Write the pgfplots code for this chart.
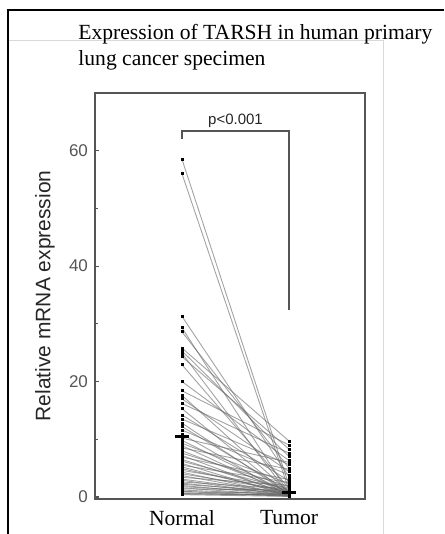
\documentclass[border=0pt]{standalone}
\usepackage{fontspec}
\setmainfont{Liberation Serif}
\newfontfamily\arial{Liberation Sans}
\usepackage{pgfplots}
\pgfplotsset{compat=1.18}
\definecolor{axgray}{HTML}{555555}
\begin{document}
\begin{tikzpicture}
\begin{axis}[
  name=ax,
  scale only axis, width=135pt, height=203pt,
  xmin=-0.813, xmax=1.71, ymin=-0.35, ymax=70,
  xtick={0,1}, xticklabels={Normal,Tumor},
  x tick label style={font=\fontsize{10.8}{12}\selectfont, yshift=-2pt},
  xtick style={draw=none},
  ytick={0,20,40,60}, minor ytick={10,30,50},
  tick pos=left, tick align=inside,
  major tick length=2pt, minor tick length=1.5pt,
  y tick label style={font=\arial\fontsize{8.5}{10}\selectfont, text=axgray},
  /pgf/number format/assume math mode=true,
  axis line style={axgray, line width=1pt},
  every tick/.style={axgray, line width=0.6pt},
  ylabel={Relative mRNA expression},
  ylabel style={font=\arial\fontsize{10.5}{12}\selectfont, text=black!85, at={(axis description cs:-0.185,0.5)}, anchor=center},
  clip=false,
  pair/.style={black!60, opacity=0.6, line width=0.45pt, mark=square*, mark size=0.5pt,
    mark options={black, opacity=1, fill=black}},
]
\addplot[pair] coordinates {(0,58.5) (1,2.0)};
\addplot[pair] coordinates {(0,56.0) (1,1.2)};
\addplot[pair] coordinates {(0,31.3) (1,3.5)};
\addplot[pair] coordinates {(0,29.3) (1,0.6)};
\addplot[pair] coordinates {(0,28.6) (1,5.0)};
\addplot[pair] coordinates {(0,25.8) (1,9.7)};
\addplot[pair] coordinates {(0,25.3) (1,7.0)};
\addplot[pair] coordinates {(0,24.9) (1,0.4)};
\addplot[pair] coordinates {(0,24.3) (1,8.3)};
\addplot[pair] coordinates {(0,22.9) (1,1.5)};
\addplot[pair] coordinates {(0,20.0) (1,6.3)};
\addplot[pair] coordinates {(0,18.4) (1,9.0)};
\addplot[pair] coordinates {(0,17.6) (1,0.8)};
\addplot[pair] coordinates {(0,17.0) (1,4.4)};
\addplot[pair] coordinates {(0,16.2) (1,7.6)};
\addplot[pair] coordinates {(0,15.3) (1,0.3)};
\addplot[pair] coordinates {(0,14.2) (1,2.8)};
\addplot[pair] coordinates {(0,13.5) (1,5.6)};
\addplot[pair] coordinates {(0,12.8) (1,0.5)};
\addplot[pair] coordinates {(0,12.2) (1,1.0)};
\addplot[pair] coordinates {(0,11.6) (1,3.8)};
\addplot[pair] coordinates {(0,10.9) (1,0.2)};
\addplot[pair] coordinates {(0,10.2) (1,6.0)};
\addplot[pair] coordinates {(0,9.8) (1,0.7)};
\addplot[pair] coordinates {(0,9.3) (1,2.3)};
\addplot[pair] coordinates {(0,8.9) (1,0.4)};
\addplot[pair] coordinates {(0,8.5) (1,4.8)};
\addplot[pair] coordinates {(0,8.0) (1,0.9)};
\addplot[pair] coordinates {(0,7.6) (1,1.8)};
\addplot[pair] coordinates {(0,7.2) (1,0.3)};
\addplot[pair] coordinates {(0,6.9) (1,3.0)};
\addplot[pair] coordinates {(0,6.5) (1,0.6)};
\addplot[pair] coordinates {(0,6.2) (1,1.3)};
\addplot[pair] coordinates {(0,5.8) (1,0.2)};
\addplot[pair] coordinates {(0,5.5) (1,2.5)};
\addplot[pair] coordinates {(0,5.2) (1,0.5)};
\addplot[pair] coordinates {(0,4.9) (1,0.8)};
\addplot[pair] coordinates {(0,4.6) (1,1.6)};
\addplot[pair] coordinates {(0,4.3) (1,0.3)};
\addplot[pair] coordinates {(0,4.0) (1,1.1)};
\addplot[pair] coordinates {(0,3.7) (1,0.4)};
\addplot[pair] coordinates {(0,3.4) (1,2.0)};
\addplot[pair] coordinates {(0,3.1) (1,0.6)};
\addplot[pair] coordinates {(0,2.9) (1,0.2)};
\addplot[pair] coordinates {(0,2.6) (1,1.4)};
\addplot[pair] coordinates {(0,2.4) (1,0.5)};
\addplot[pair] coordinates {(0,2.2) (1,0.9)};
\addplot[pair] coordinates {(0,2.0) (1,0.3)};
\addplot[pair] coordinates {(0,1.8) (1,0.7)};
\addplot[pair] coordinates {(0,1.6) (1,0.2)};
\addplot[pair] coordinates {(0,1.4) (1,1.2)};
\addplot[pair] coordinates {(0,1.2) (1,0.4)};
\addplot[pair] coordinates {(0,1.0) (1,0.1)};
\addplot[pair] coordinates {(0,0.9) (1,0.6)};
\addplot[pair] coordinates {(0,0.7) (1,0.3)};
\addplot[pair] coordinates {(0,0.6) (1,0.2)};
\addplot[pair] coordinates {(0,0.5) (1,0.4)};
\addplot[pair] coordinates {(0,0.4) (1,0.1)};
% group means
\addplot[black, line width=1.6pt, no marks] coordinates {(-0.065,10.5) (0.065,10.5)};
\addplot[black, line width=1.6pt, no marks] coordinates {(0.935,0.8) (1.065,0.8)};
% significance bracket
\draw[axgray, line width=1pt] (axis cs:0,62) -- (axis cs:0,63.4) -- (axis cs:1,63.4) -- (axis cs:1,32.4);
\node[anchor=south, font=\arial\fontsize{7.5}{9}\selectfont, text=black!85, inner sep=1.5pt] at (axis cs:0.5,63.4) {p<0.001};
\end{axis}
% page frame and title, in reference pixels (1px = 0.5pt) measured from the axis corner
\begin{scope}[shift={(ax.south west)}, x=0.5pt, y=0.5pt]
\draw[black!15, line width=0.3pt] (-87,459) -- (288,459) -- (288,-35);
\draw[black, line width=1pt] (-87,-35) -- (-87,489) -- (349,489);
\node[anchor=base west, font=\fontsize{10.8}{13}\selectfont, inner sep=0pt] at (-17,459) {Expression of TARSH in human primary};
\node[anchor=base west, font=\fontsize{10.8}{13}\selectfont, inner sep=0pt] at (-17,433) {lung cancer specimen};
\pgfresetboundingbox
\path[use as bounding box] (-95,-35) rectangle (349,499);
\end{scope}
\end{tikzpicture}
\end{document}
